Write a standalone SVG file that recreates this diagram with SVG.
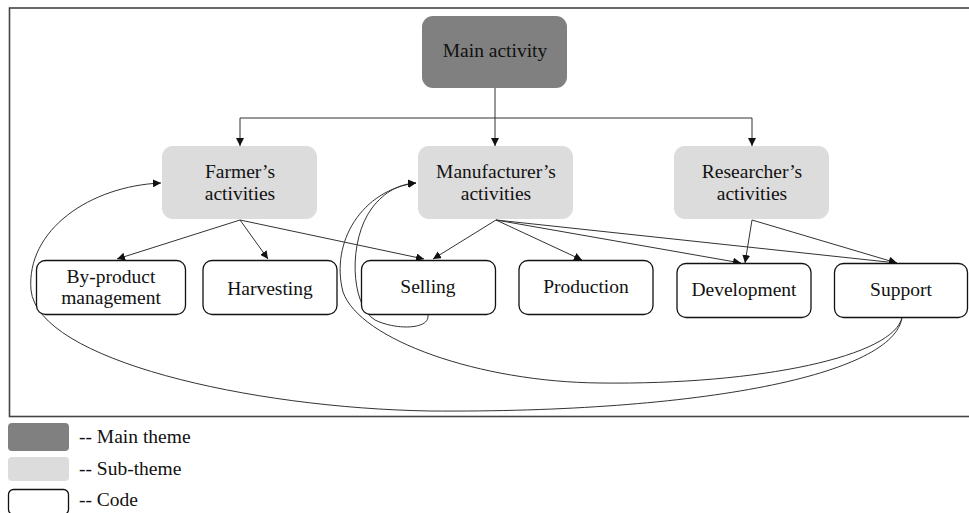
<svg xmlns="http://www.w3.org/2000/svg" width="969" height="513" viewBox="0 0 969 513">
<style>
text{font-family:"Liberation Serif","DejaVu Serif",serif;font-size:19.5px;fill:#111;text-anchor:middle}
.main{fill:#808080}
.sub{fill:#dcdcdc}
.code{fill:#fff;stroke:#111;stroke-width:1.3}
.ln{fill:none;stroke:#333;stroke-width:1}
.lg{text-anchor:start}
</style>
<defs>
<marker id="ah" viewBox="0 0 10 10" refX="10" refY="5" markerWidth="8" markerHeight="8" markerUnits="userSpaceOnUse" orient="auto">
<path d="M0,0 L10,5 L0,10 z" fill="#111"/>
</marker>
</defs>
<rect x="9.5" y="8" width="970" height="408.5" fill="none" stroke="#444" stroke-width="1.6"/>
<g id="connectors" class="ln">
<path d="M495,88 V146" marker-end="url(#ah)"/>
<path d="M240,118 H752"/>
<path d="M240,118 V146" marker-end="url(#ah)"/>
<path d="M752,118 V146" marker-end="url(#ah)"/>
<path d="M240,220 L117,259" marker-end="url(#ah)"/>
<path d="M240,220 L268,259" marker-end="url(#ah)"/>
<path d="M240,220 L424,259" marker-end="url(#ah)"/>
<path d="M496,220 L433,259" marker-end="url(#ah)"/>
<path d="M496,220 L582,260" marker-end="url(#ah)"/>
<path d="M496,220 L741,263" marker-end="url(#ah)"/>
<path d="M496,220 L897,263" marker-end="url(#ah)"/>
<path d="M752,220 L745,263" marker-end="url(#ah)"/>
<path d="M752,220 L897,263" marker-end="url(#ah)"/>
<path d="M428,315 C430,330 395,330 375,320 C350,305 348,240 372,208 C385,191 400,184 416,183" marker-end="url(#ah)"/>
<path d="M902,317 C895,356 760,385 600,383 C480,382 360,340 343,292 C330,242 362,190 416,183" marker-end="url(#ah)"/>
<path d="M902,317 C895,375 700,413 430,411 C250,408 38,360 31,290 C26,230 90,186 161,183" marker-end="url(#ah)"/>
</g>
<g id="main-activity">
<rect class="main" x="422" y="16" width="145" height="72" rx="11"/>
<text x="495" y="57">Main activity</text>
</g>
<g id="farmers-activities">
<rect class="sub" x="162" y="146" width="155" height="73" rx="11"/>
<text x="240" y="178">Farmer’s</text>
<text x="240" y="200">activities</text>
</g>
<g id="manufacturers-activities">
<rect class="sub" x="418" y="146" width="155" height="73" rx="11"/>
<text x="496" y="178">Manufacturer’s</text>
<text x="496" y="200">activities</text>
</g>
<g id="researchers-activities">
<rect class="sub" x="674" y="146" width="155" height="73" rx="11"/>
<text x="752" y="178">Researcher’s</text>
<text x="752" y="200">activities</text>
</g>
<g id="by-product-management">
<rect class="code" x="36.5" y="260.5" width="149" height="54" rx="9"/>
<text x="111" y="283">By-product</text>
<text x="111" y="304">management</text>
</g>
<g id="harvesting">
<rect class="code" x="203" y="260.5" width="134" height="54" rx="9"/>
<text x="270" y="295">Harvesting</text>
</g>
<g id="selling">
<rect class="code" x="361.5" y="260.5" width="134" height="54" rx="9"/>
<text x="428" y="293">Selling</text>
</g>
<g id="production">
<rect class="code" x="519" y="260.5" width="134" height="54" rx="9"/>
<text x="586" y="293">Production</text>
</g>
<g id="development">
<rect class="code" x="677" y="263.5" width="134" height="54" rx="9"/>
<text x="744" y="296">Development</text>
</g>
<g id="support">
<rect class="code" x="834.5" y="263.5" width="133" height="54" rx="9"/>
<text x="901" y="296">Support</text>
</g>
<g id="legend">
<rect class="main" x="8" y="423" width="61" height="28" rx="4"/>
<text class="lg" x="79" y="443">-- Main theme</text>
<rect class="sub" x="8" y="457" width="61" height="24" rx="4"/>
<text class="lg" x="79" y="475">-- Sub-theme</text>
<rect class="code" x="8.5" y="489.5" width="60" height="25" rx="5"/>
<text class="lg" x="79" y="506">-- Code</text>
</g>
</svg>
